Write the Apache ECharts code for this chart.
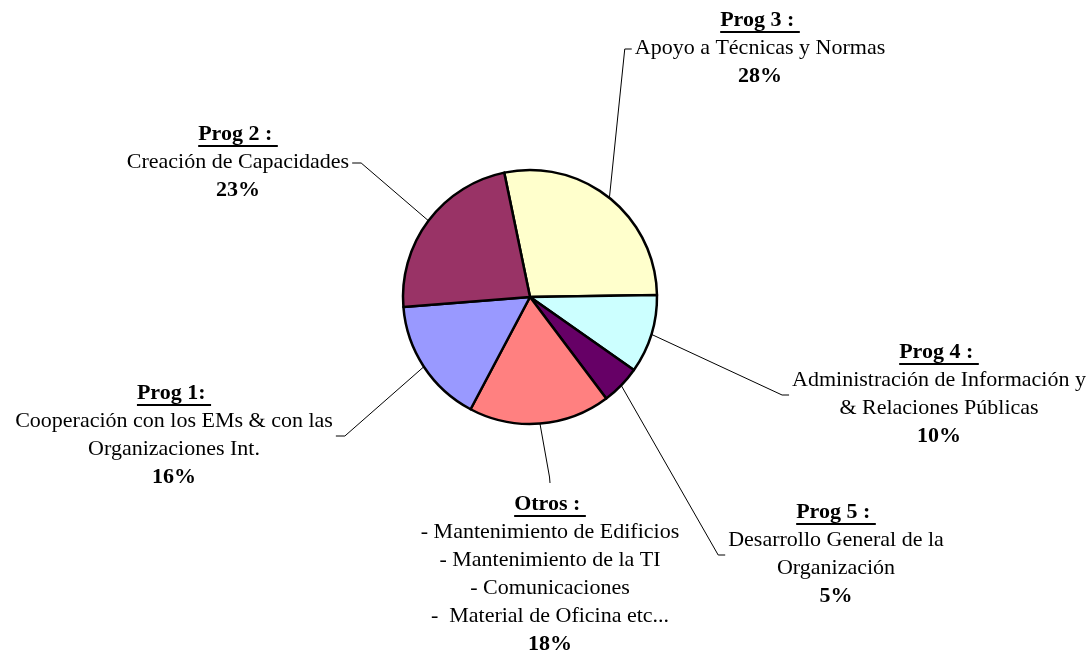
<!DOCTYPE html>
<html><head><meta charset="utf-8">
<script src="https://cdn.jsdelivr.net/npm/echarts@6/dist/echarts.min.js"></script>
<style>html,body{margin:0;padding:0;background:#fff}#c{width:1092px;height:657px}</style>
</head><body><div id="c"></div>
<script>
// ---- data (clockwise order from the top) ----
const titles = ['Prog 3 : ', 'Prog 4 : ', 'Prog 5 : ', 'Otros : ', 'Prog 1: ', 'Prog 2 : '];
const descriptions = [
  ['Apoyo a Técnicas y Normas'],
  ['Administración de Información y', '& Relaciones Públicas'],
  ['Desarrollo General de la', 'Organización'],
  ['- Mantenimiento de Edificios', '- Mantenimiento de la TI', '- Comunicaciones', '-  Material de Oficina etc...'],
  ['Cooperación con los EMs & con las', 'Organizaciones Int.'],
  ['Creación de Capacidades']
];
const shares = [28, 10, 5, 18, 16, 23];
const colors = ['#FFFFCC', '#CCFFFF', '#660066', '#FF8080', '#9999FF', '#993366'];

// ---- label placement (layout only) ----
const labelPlacement = [
  {x: 760, top: 10, side: 'left'},
  {x: 939, top: 342, side: 'left'},
  {x: 836, top: 502, side: 'left'},
  {x: 550, top: 494, side: 'top'},
  {x: 174, top: 383, side: 'right'},
  {x: 238, top: 124, side: 'right'}
];

const FONT = '"Liberation Serif", "Times New Roman", serif';
const FS = 22;
const ctx = document.createElement('canvas').getContext('2d');
ctx.font = 'bold ' + FS + 'px ' + FONT;
const ulWidth = titles.map(t => ctx.measureText(t).width);

const rich = {
  t: {fontFamily: FONT, fontSize: FS, fontWeight: 'bold', color: '#000', lineHeight: 20, align: 'center'},
  n: {fontFamily: FONT, fontSize: FS, color: '#000', lineHeight: 28, align: 'center'},
  b: {fontFamily: FONT, fontSize: FS, fontWeight: 'bold', color: '#000', lineHeight: 28, align: 'center'}
};
ulWidth.forEach((w, i) => {
  rich['u' + i] = {width: w, height: 2, lineHeight: 4, fontSize: 1, backgroundColor: '#000', align: 'center'};
});

const chart = echarts.init(document.getElementById('c'), null, {renderer: 'canvas'});
chart.setOption({
  backgroundColor: '#fff',
  animation: false,
  series: [{
    type: 'pie',
    silent: true,
    center: [530, 297],
    radius: 127,
    startAngle: 101.7,
    clockwise: true,
    avoidLabelOverlap: false,
    emphasis: {disabled: true},
    itemStyle: {borderColor: '#000', borderWidth: 2.5},
    label: {
      show: true,
      position: 'outside',
      fontFamily: FONT,
      fontSize: FS,
      color: '#000',
      formatter: function (p) {
        const i = p.dataIndex;
        return ['{t|' + titles[i] + '}', '{u' + i + '| }']
          .concat(descriptions[i].map(s => '{n|' + s + '}'))
          .concat(['{b|' + p.value + '%}']).join('\n');
      },
      rich: rich
    },
    labelLine: {show: true, length: 20, length2: 10, smooth: false, lineStyle: {color: '#000', width: 1}},
    labelLayout: function (params) {
      const i = params.dataIndex;
      const pl = labelPlacement[i];
      const w = params.labelRect.width, h = params.labelRect.height;
      const start = params.labelLinePoints ? params.labelLinePoints[0] : [pl.x, pl.top];
      const mid = pl.top + h / 2;
      let end, bend;
      if (pl.side === 'left') {
        end = [pl.x - w / 2 - 3, mid]; bend = [end[0] - 7, mid];
      } else if (pl.side === 'right') {
        end = [pl.x + w / 2 + 3, mid]; bend = [end[0] + 9, mid];
      } else {
        end = [pl.x, pl.top - 11]; bend = [pl.x - 0.5, pl.top - 17];
      }
      return {x: pl.x, y: pl.top, align: 'center', verticalAlign: 'top', labelLinePoints: [start, bend, end]};
    },
    data: shares.map((v, i) => ({name: titles[i].trim(), value: v, itemStyle: {color: colors[i]}}))
  }]
});
</script>
</body></html>
